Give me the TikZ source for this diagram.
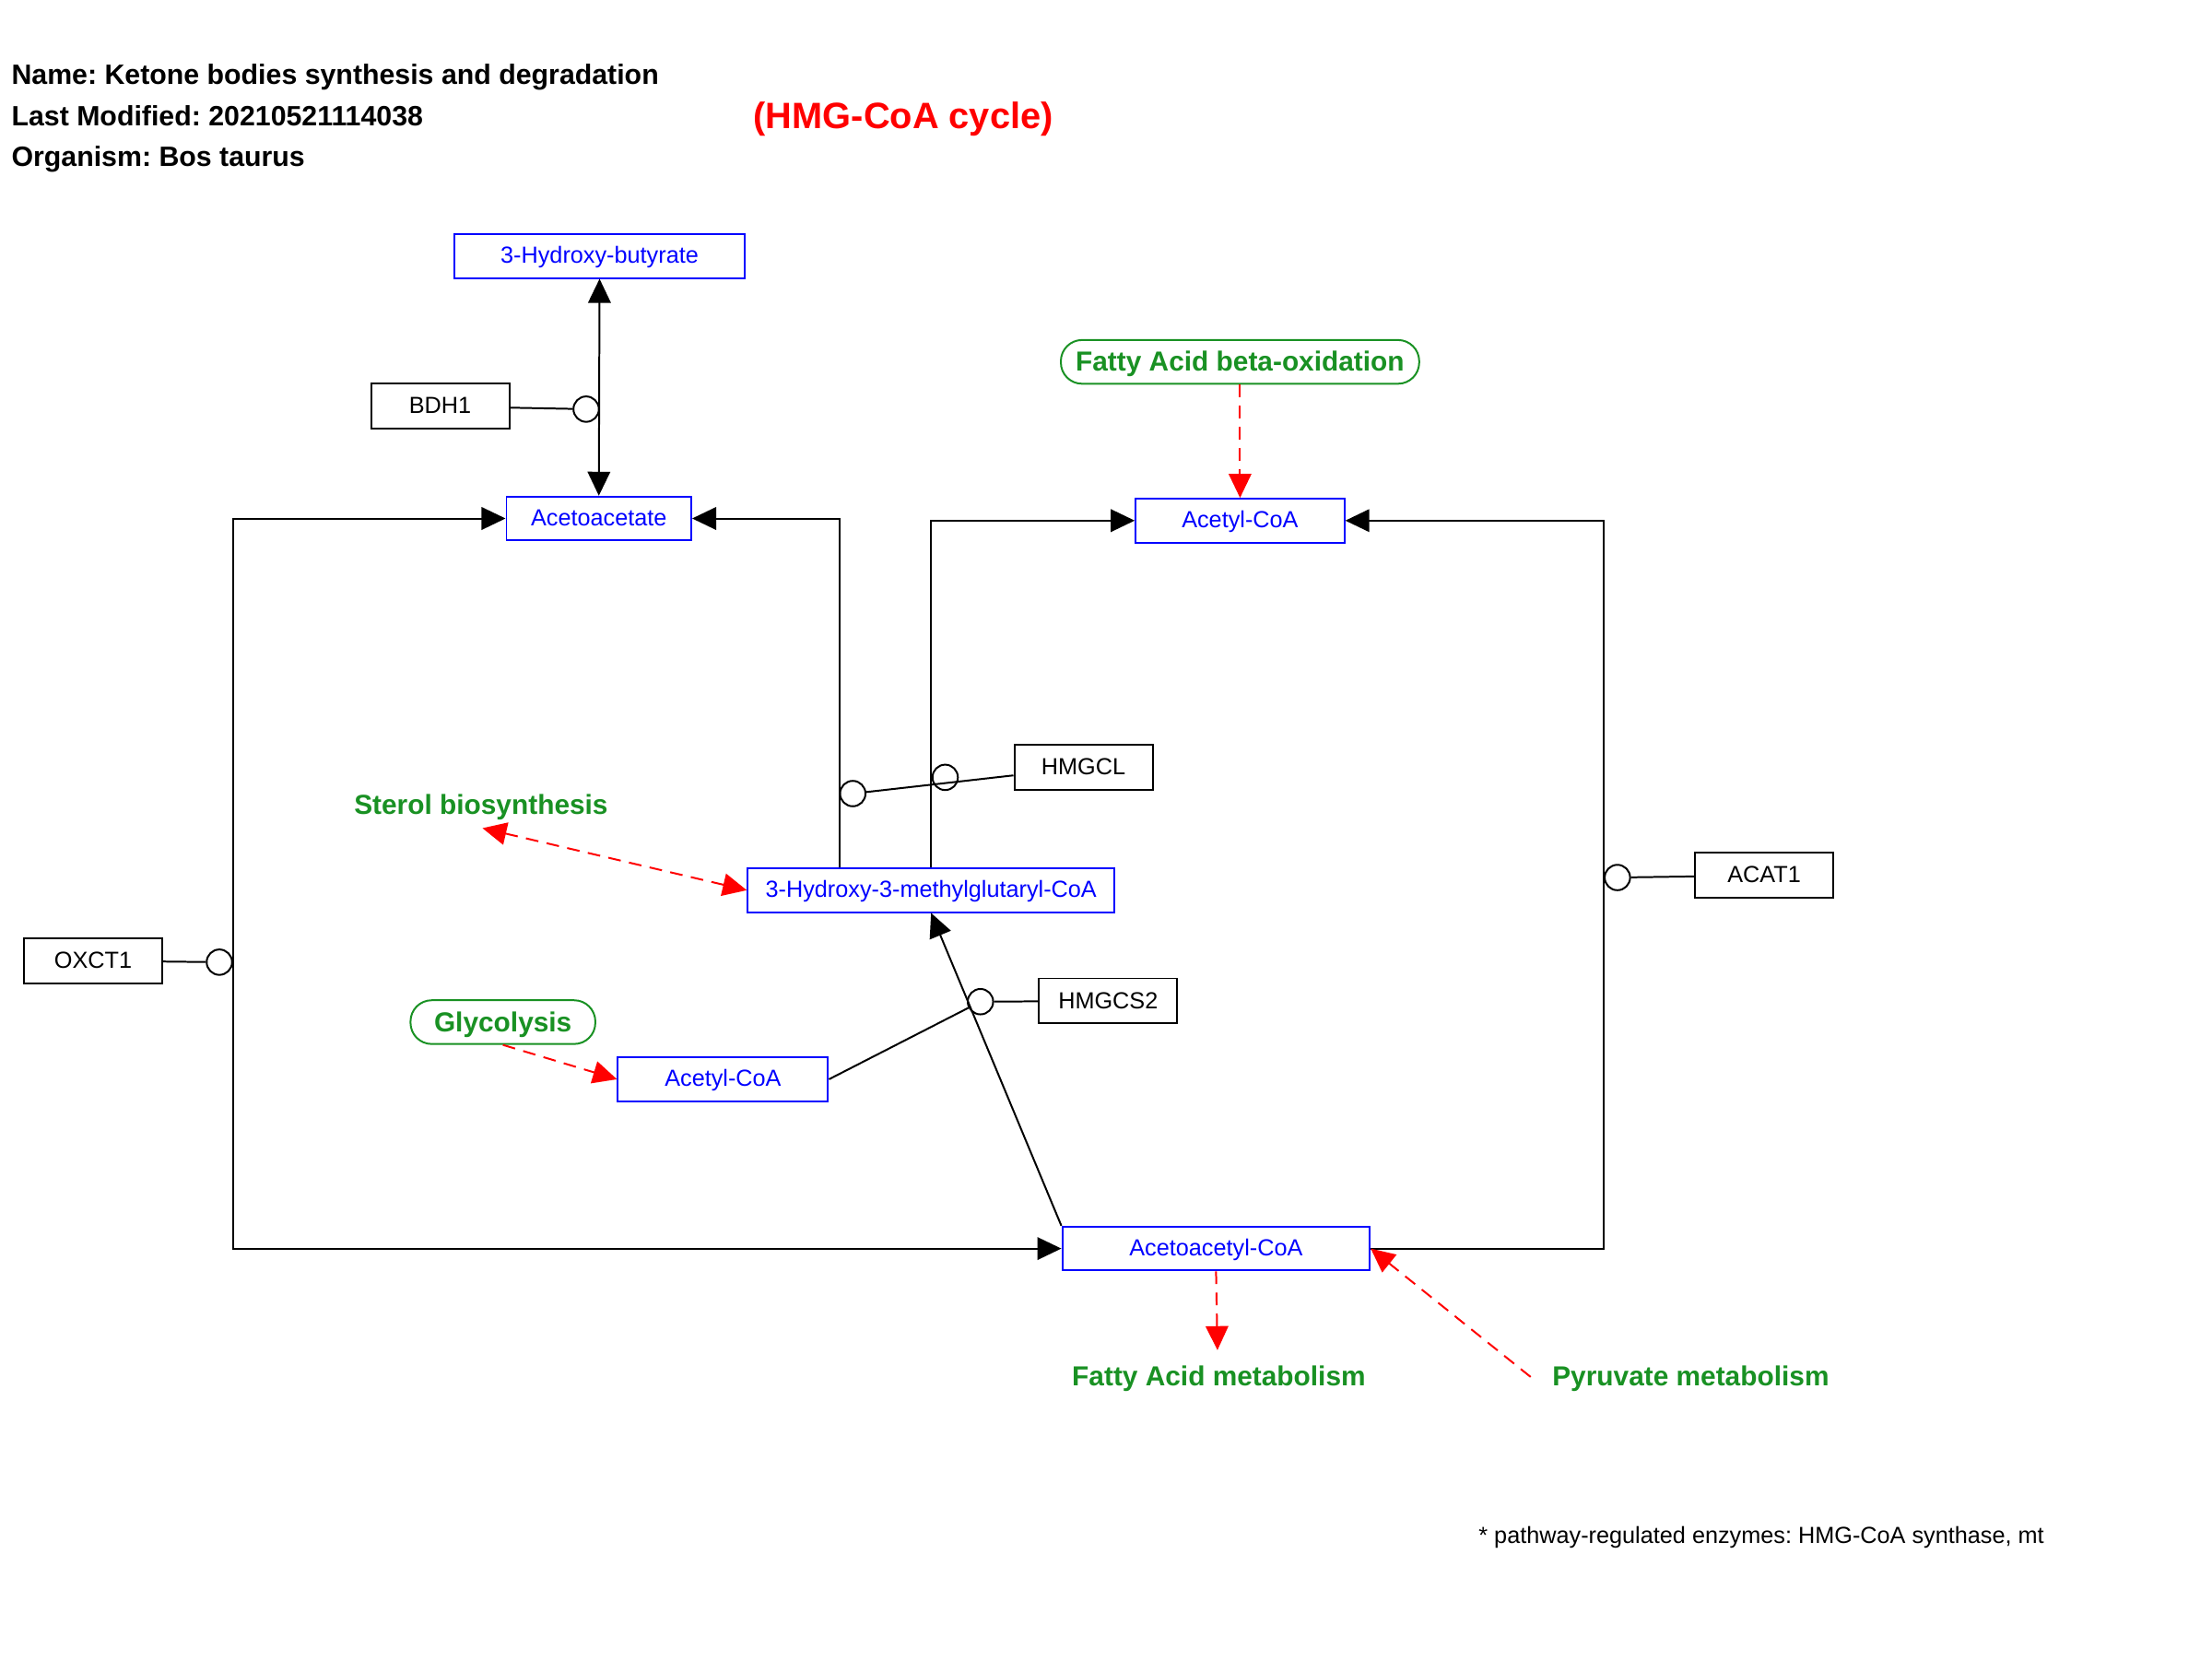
\documentclass[tikz,border=0pt]{standalone}
\usepackage{fontspec}
\setmainfont{Liberation Sans}
\usetikzlibrary{arrows.meta}
\definecolor{pwgreen}{RGB}{25,145,35}
\frenchspacing

\tikzset{
  tri/.tip={Triangle[length=17pt,width=16pt]},
  metab/.style={draw=blue, text=blue, line width=1.3pt, font=\fontsize{16.5}{18}\selectfont,
    minimum height=31pt, inner sep=0pt, text height=11.9pt, text depth=1.4pt},
  gene/.style={draw=black, line width=1.3pt, font=\fontsize{16.5}{18}\selectfont,
    minimum width=98pt, minimum height=32pt, inner sep=0pt, text height=11.9pt, text depth=1.4pt},
  pwtext/.style={text=pwgreen, font=\bfseries\fontsize{19.5}{21}\selectfont},
  pwbox/.style={pwtext, draw=pwgreen, line width=1.3pt, rounded corners=15pt,
    minimum height=31pt, inner sep=0pt, text height=14pt, text depth=0.8pt},
  cat/.style={circle, draw, line width=1.3pt, minimum size=18pt, inner sep=0pt},
  rxn/.style={line width=1.3pt, -tri},
  link/.style={line width=1.3pt, red, dash pattern=on 9pt off 6pt, -tri},
  hdr/.style={anchor=base west, inner sep=0pt, font=\bfseries\fontsize{19.8}{21}\selectfont}
}

\begin{document}
\frenchspacing
\begin{tikzpicture}[x=1pt,y=-1pt]
\useasboundingbox (0,0) rectangle (1568,1176);

% header
\node[hdr] (name) at (8,60) {Name: Ketone bodies synthesis and degradation};
\node[hdr] (lastmod) at (8,89) {Last Modified: 20210521114038};
\node[hdr] (organism) at (8,118) {Organism: Bos taurus};
\node[anchor=base west, inner sep=0pt, text=red, font=\bfseries\fontsize{26}{28}\selectfont] (cycle) at (534,91) {(HMG-CoA cycle)};

% metabolites
\node[metab, minimum width=206pt] (hbut) at (425,181.5) {3-Hydroxy-butyrate};
\node[metab, minimum width=131pt] (acac) at (424.5,367.5) {Acetoacetate};
\node[metab, minimum width=148pt] (acoaT) at (879,369) {Acetyl-CoA};
\node[metab, minimum width=260pt] (hmg) at (660,631) {3-Hydroxy-3-methylglutaryl-CoA};
\node[metab, minimum width=149pt] (acoaM) at (512.5,765) {Acetyl-CoA};
\node[metab, minimum width=218pt] (aacoa) at (862,885) {Acetoacetyl-CoA};

% enzymes
\node[gene] (bdh1) at (312,288) {BDH1};
\node[gene] (hmgcl) at (768,544) {HMGCL};
\node[gene] (acat1) at (1250.5,620.5) {ACAT1};
\node[gene] (oxct1) at (66,681) {OXCT1};
\node[gene] (hmgcs2) at (785.5,709.5) {HMGCS2};

\node[cat] (bdh1c) at (415.5,290) {};
\node[cat] (hmgclc) at (604.5,562.5) {};
\node[cat] (hmgclc2) at (670,551) {};
\node[cat] (acat1c) at (1146.5,622) {};
\node[cat] (oxct1c) at (155.5,682) {};
\node[cat] (hmgcs2c) at (695,710) {};

% other pathways
\node[pwbox, minimum width=254pt] (fabo) at (879,256.5) {Fatty Acid beta-oxidation};
\node[pwbox, minimum width=131pt] (glyc) at (356.5,724.5) {Glycolysis};
\node[pwtext, anchor=base] (sterol) at (341,577.3) {Sterol biosynthesis};
\node[pwtext, anchor=base] (fam) at (864,982) {Fatty Acid metabolism};
\node[pwtext, anchor=base] (pyr) at (1198.5,982) {Pyruvate metabolism};

% footnote
\node[anchor=base west, inner sep=0pt, font=\fontsize{16.5}{18}\selectfont] (note) at (1048,1094) {* pathway-regulated enzymes: HMG-CoA synthase, mt};

% reactions
\draw[rxn, tri-tri] (hbut.south) -- (acac.north);
\draw[line width=1.3pt] (bdh1) -- (bdh1c);

\coordinate (oxA) at (165.5,367.5);
\coordinate (oxB) at (165.5,885);
\draw[rxn, tri-tri] (acac.west) -- (oxA) -- (oxB) -- (aacoa.west);
\draw[line width=1.3pt] (oxct1) -- (oxct1c);

\draw[rxn] ([xshift=-65pt]hmg.north) |- (acac.east);
\draw[rxn] (hmg.north) |- (acoaT.west);
\draw[line width=1.3pt] (hmgcl) -- (hmgclc);

\coordinate (acA) at (1136.5,885);
\draw[rxn] (aacoa.east) -- (acA) |- (acoaT.east);
\draw[line width=1.3pt] (acat1) -- (acat1c);

\draw[rxn] (aacoa.north west) -- (hmg.south);
\draw[line width=1.3pt] (acoaM.east) -- (hmgcs2c);
\draw[line width=1.3pt] (hmgcs2) -- (hmgcs2c);

% links to pathways
\coordinate (sterolT) at (342,587);
\coordinate (famT) at (863,957);
\coordinate (pyrS) at (1085,976);
\draw[link] (fabo) -- (acoaT);
\draw[link, tri-tri] (sterolT) -- (hmg.west);
\draw[link] (glyc.south) -- (acoaM.west);
\draw[link] (aacoa.south) -- (famT);
\draw[link] (pyrS) -- (aacoa.east);
\end{tikzpicture}
\end{document}
